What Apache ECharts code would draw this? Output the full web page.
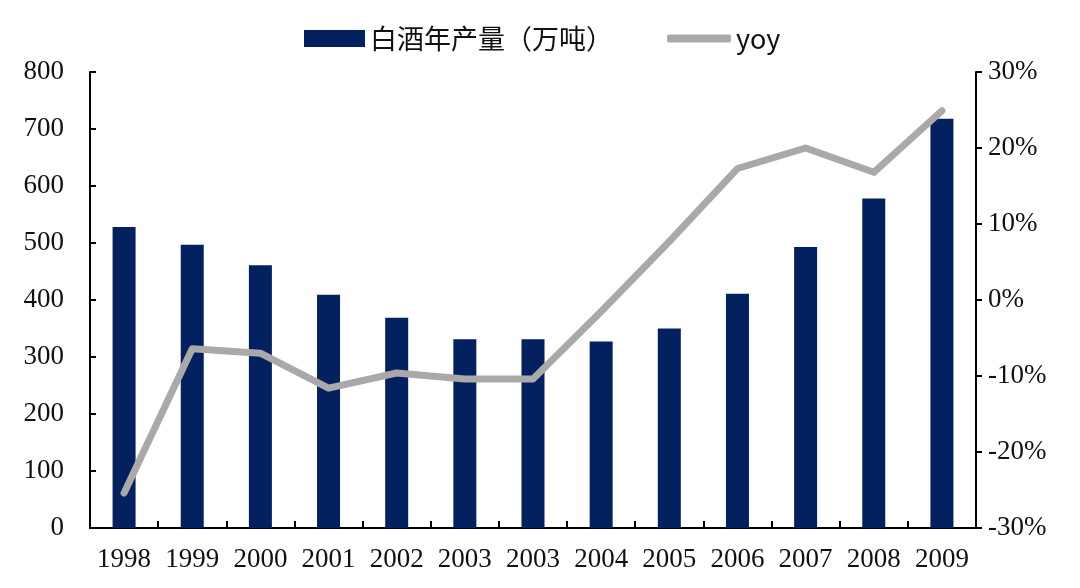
<!DOCTYPE html>
<html><head><meta charset="utf-8">
<script src="https://cdn.jsdelivr.net/npm/echarts@6/dist/echarts.min.js"></script>
<style>html,body{margin:0;padding:0;background:#fff}#c{width:1080px;height:588px}</style>
</head><body><div id="c"></div>
<script>
var categories = ['1998','1999','2000','2001','2002','2003','2003','2004','2005','2006','2007','2008','2009'];
var production = [528, 497, 461, 409, 369, 331, 331, 327, 350, 411, 493, 578, 718];
var yoy = [-25.4, -6.4, -7.0, -11.6, -9.6, -10.4, -10.4, -1.5, 7.7, 17.3, 20.0, 16.8, 24.9];
var leftTicks = [0, 800, 100];
var rightTicks = [-30, 30, 10];

var chart = echarts.init(document.getElementById('c'), null, {renderer: 'canvas'});
var serif = '"Liberation Serif", "Times New Roman", serif';
var sans = '"Noto Sans CJK SC", "Noto Sans", sans-serif';
chart.setOption({
  animation: false,
  backgroundColor: '#ffffff',
  legend: [{
    top: 20, left: 299,
    itemWidth: 61, itemHeight: 17,
    textStyle: {fontFamily: sans, fontSize: 27, color: '#111'},
    data: [{name: '白酒年产量（万吨）', icon: 'rect'}]
  }, {
    top: 20, left: 662,
    itemWidth: 64, itemHeight: 8,
    textStyle: {fontFamily: sans, fontSize: 27, color: '#111'},
    data: [{name: 'yoy', icon: 'roundRect', itemStyle: {color: '#a9a9a9'}}]
  }],
  grid: {left: 90, right: 104, top: 72, bottom: 60, containLabel: false},
  xAxis: {
    type: 'category', data: categories,
    axisLine: {lineStyle: {color: '#000', width: 2}},
    axisTick: {show: true, inside: true, length: 7, lineStyle: {color: '#000', width: 2}},
    axisLabel: {fontFamily: serif, fontSize: 27, color: '#111', margin: 18, interval: 0}
  },
  yAxis: [{
    type: 'value', min: leftTicks[0], max: leftTicks[1], interval: leftTicks[2],
    axisLine: {show: true, lineStyle: {color: '#000', width: 2}},
    axisTick: {show: true, inside: true, length: 6, lineStyle: {color: '#000', width: 2}},
    splitLine: {show: false},
    axisLabel: {fontFamily: serif, fontSize: 27, color: '#111', margin: 26}
  }, {
    type: 'value', min: rightTicks[0], max: rightTicks[1], interval: rightTicks[2],
    axisLine: {show: true, lineStyle: {color: '#000', width: 2}},
    axisTick: {show: true, inside: false, length: 6, lineStyle: {color: '#000', width: 2}},
    splitLine: {show: false},
    axisLabel: {fontFamily: serif, fontSize: 27, color: '#111', margin: 12,
      formatter: function (v) { return v + '%'; }}
  }],
  series: [{
    name: '白酒年产量（万吨）', type: 'bar', data: production, yAxisIndex: 0,
    barWidth: 23,
    itemStyle: {color: '#03205f'}
  }, {
    name: 'yoy', type: 'line', data: yoy, yAxisIndex: 1,
    symbol: 'none',
    lineStyle: {color: '#a9a9a9', width: 7, cap: 'round', join: 'round'},
    itemStyle: {color: '#a9a9a9'}
  }]
});
</script></body></html>
